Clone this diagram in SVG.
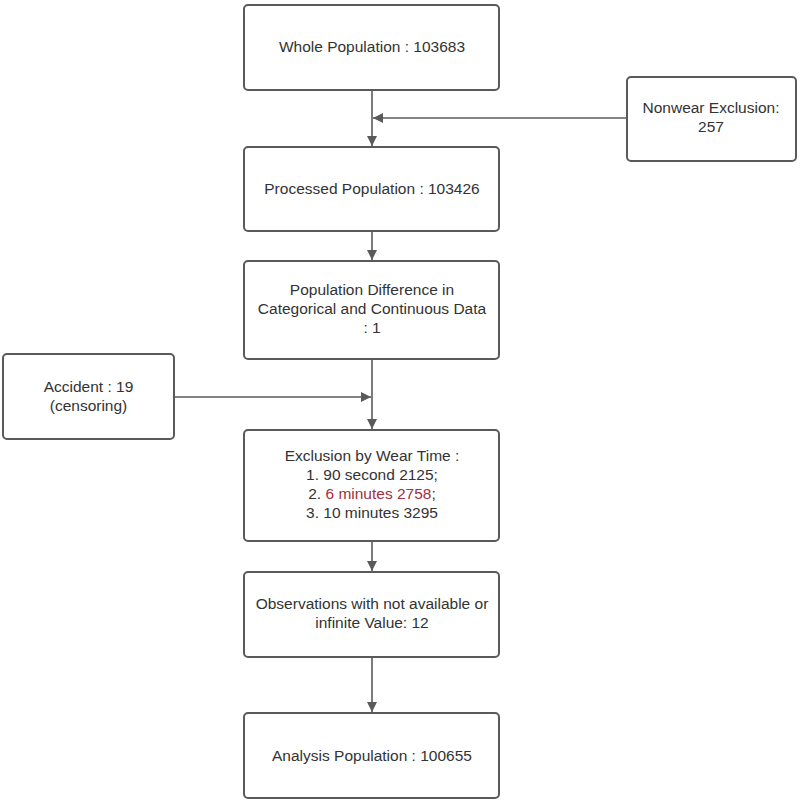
<svg xmlns="http://www.w3.org/2000/svg" width="800" height="807" viewBox="0 0 800 807">
<defs>
<style>
.box{fill:#fff;stroke:#5a5a5a;stroke-width:2}
.t{font-family:"Liberation Sans",Arial,sans-serif;font-size:15.5px;fill:#333;text-anchor:middle}
.red{fill:#a3303c}
.ln{stroke:#5a5a5a;stroke-width:1.6;fill:none}
</style>
<marker id="ah" viewBox="0 0 10 10" refX="10" refY="5" markerWidth="10" markerHeight="10" markerUnits="userSpaceOnUse" orient="auto">
<path d="M0,0 L10,5 L0,10 z" fill="#5a5a5a"/>
</marker>
</defs>
<rect width="800" height="807" fill="#fff"/>
<g id="connectors">
<line class="ln" x1="372" y1="90" x2="372" y2="146" marker-end="url(#ah)"/>
<line class="ln" x1="627" y1="118" x2="373" y2="118" marker-end="url(#ah)"/>
<line class="ln" x1="372" y1="231" x2="372" y2="260" marker-end="url(#ah)"/>
<line class="ln" x1="372" y1="359" x2="372" y2="429" marker-end="url(#ah)"/>
<line class="ln" x1="174" y1="397" x2="371" y2="397" marker-end="url(#ah)"/>
<line class="ln" x1="372" y1="541" x2="372" y2="571" marker-end="url(#ah)"/>
<line class="ln" x1="372" y1="657" x2="372" y2="712" marker-end="url(#ah)"/>
</g>
<g id="whole">
<rect class="box" x="244" y="5" width="255" height="85" rx="4"/>
<text class="t" x="372" y="52">Whole Population : 103683</text>
</g>
<g id="nonwear">
<rect class="box" x="627" y="77" width="169" height="84" rx="4"/>
<text class="t" x="711" y="113">Nonwear Exclusion:</text>
<text class="t" x="711" y="132">257</text>
</g>
<g id="processed">
<rect class="box" x="244" y="147" width="255" height="84" rx="4"/>
<text class="t" x="372" y="194">Processed Population : 103426</text>
</g>
<g id="difference">
<rect class="box" x="244" y="261" width="255" height="98" rx="4"/>
<text class="t" x="372" y="295">Population Difference in</text>
<text class="t" x="372" y="314">Categorical and Continuous Data</text>
<text class="t" x="372" y="333">: 1</text>
</g>
<g id="accident">
<rect class="box" x="3" y="354" width="171" height="85" rx="4"/>
<text class="t" x="88.5" y="392">Accident : 19</text>
<text class="t" x="88.5" y="411">(censoring)</text>
</g>
<g id="weartime">
<rect class="box" x="244" y="430" width="255" height="111" rx="4"/>
<text class="t" x="372" y="461">Exclusion by Wear Time :</text>
<text class="t" x="372" y="480">1. 90 second 2125;</text>
<text class="t" x="372" y="499">2. <tspan class="red">6 minutes 2758</tspan>;</text>
<text class="t" x="372" y="518">3. 10 minutes 3295</text>
</g>
<g id="observations">
<rect class="box" x="244" y="572" width="255" height="85" rx="4"/>
<text class="t" x="372" y="609">Observations with not available or</text>
<text class="t" x="372" y="628">infinite Value: 12</text>
</g>
<g id="analysis">
<rect class="box" x="244" y="713" width="255" height="85" rx="4"/>
<text class="t" x="372" y="761">Analysis Population : 100655</text>
</g>
</svg>
